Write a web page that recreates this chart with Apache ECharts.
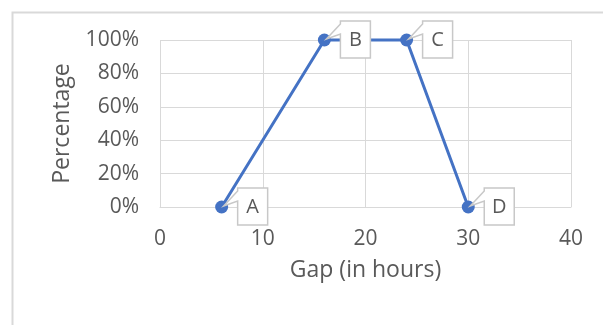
<!DOCTYPE html>
<html>
<head>
<meta charset="utf-8">
<script src="https://cdn.jsdelivr.net/npm/echarts@6/dist/echarts.min.js"></script>
<style>
  html, body { margin: 0; padding: 0; background: #fff; }
  #chart { width: 603px; height: 325px; }
</style>
</head>
<body>
<div id="chart"></div>
<script>
// Gap between events (hours) against share of cases (%)
const gapHours = [6, 16, 24, 30];
const percentage = [0, 100, 100, 0];
const pointNames = ['A', 'B', 'C', 'D'];

const FONT = '"Open Sans", "Noto Sans", sans-serif';
const TEXT = '#595959';
const GRID = '#d9d9d9';
const BLUE = '#4472c4';

const points = gapHours.map((g, i) => [g, percentage[i]]);

const chart = echarts.init(document.getElementById('chart'), null, { renderer: 'canvas' });

chart.setOption({
  animation: false,
  backgroundColor: '#fff',
  graphic: [{
    type: 'rect',
    left: 10, top: 10,
    shape: { width: 700, height: 400 },
    style: { fill: 'none', stroke: GRID, lineWidth: 2 },
    silent: true
  }],
  grid: { left: 160, right: 32, top: 40, bottom: 118 },
  xAxis: {
    type: 'value',
    min: 0, max: 40, interval: 10,
    name: 'Gap (in hours)',
    nameLocation: 'middle',
    nameGap: 52,
    nameTextStyle: { fontFamily: FONT, fontSize: 23, color: TEXT },
    axisLine: { show: true, lineStyle: { color: GRID, width: 1 } },
    axisTick: { show: false },
    axisLabel: { fontFamily: FONT, fontSize: 21, color: TEXT, margin: 22 },
    splitLine: { show: true, lineStyle: { color: GRID, width: 1 } }
  },
  yAxis: {
    type: 'value',
    min: 0, max: 100, interval: 20,
    name: 'Percentage',
    nameLocation: 'middle',
    nameGap: 86,
    nameTextStyle: { fontFamily: FONT, fontSize: 23, color: TEXT },
    axisLine: { show: false },
    axisTick: { show: false },
    axisLabel: { fontFamily: FONT, fontSize: 21, color: TEXT, margin: 21, formatter: '{value}%' },
    splitLine: { show: true, lineStyle: { color: GRID, width: 1 } }
  },
  series: [
    {
      type: 'line',
      data: points,
      clip: false,
      symbol: 'circle',
      symbolSize: 13,
      lineStyle: { color: BLUE, width: 3 },
      itemStyle: { color: BLUE },
      z: 2
    },
    {
      // Callout boxes naming each point, with a wedge pointing back to it
      type: 'custom',
      data: points,
      clip: false,
      z: 3,
      renderItem: function (params, api) {
        const p = api.coord([api.value(0), api.value(1)]);
        const x0 = p[0] + 16, y0 = p[1] - 19, w = 30, h = 37;
        return {
          type: 'group',
          children: [
            {
              type: 'polygon',
              shape: {
                points: [
                  [x0, y0], [x0 + w, y0], [x0 + w, y0 + h], [x0, y0 + h],
                  [x0, y0 + 13], [p[0] + 2, p[1] - 1], [x0, y0 + 3]
                ]
              },
              style: { fill: '#fff', stroke: '#c8c8c8', lineWidth: 1.5 }
            },
            {
              type: 'text',
              style: {
                text: pointNames[params.dataIndex],
                x: x0 + w / 2, y: y0 + h / 2 + 1,
                align: 'center', verticalAlign: 'middle',
                fontFamily: FONT, fontSize: 20, fill: TEXT
              }
            }
          ]
        };
      }
    }
  ]
});
</script>
</body>
</html>
